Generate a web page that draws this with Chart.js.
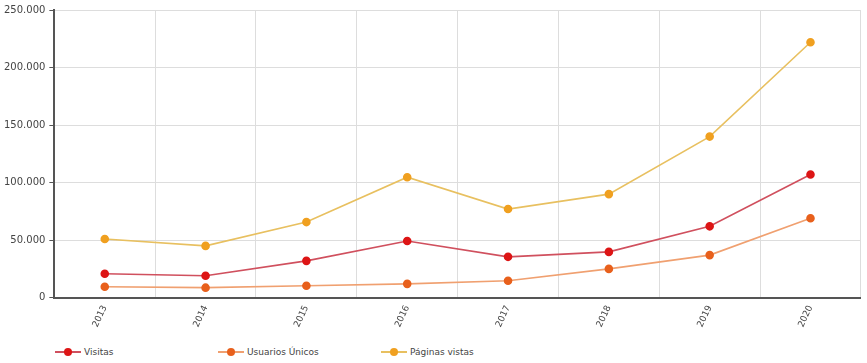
<!DOCTYPE html>
<html>
<head>
<meta charset="utf-8">
<script src="https://cdn.jsdelivr.net/npm/chart.js@4.4.1/dist/chart.umd.min.js"></script>
<style>
  html, body { margin: 0; padding: 0; background: #fff; }
  #wrap { position: relative; width: 867px; height: 335px; }
  #legend { position: absolute; left: 0; top: 347px; font: 9px "DejaVu Sans", sans-serif; color: #444; }
  .item { position: absolute; top: 0; white-space: nowrap; display: flex; align-items: center; }
  .sym { position: relative; width: 26px; height: 10px; margin-right: 3px; }
  .sym .ln { position: absolute; left: 0; right: 0; top: 4px; height: 2px; }
  .sym .dt { position: absolute; left: 9px; top: 1px; width: 8px; height: 8px; border-radius: 50%; }
</style>
</head>
<body>
<div id="wrap"><canvas id="chart"></canvas></div>
<div id="legend"></div>
<script>
const years = ["2013", "2014", "2015", "2016", "2017", "2018", "2019", "2020"];
const visitas = [20800, 19000, 32000, 49300, 35500, 39800, 62000, 107000];
const usuarios = [9500, 8700, 10400, 12000, 14700, 25000, 37000, 69000];
const paginas = [51000, 45000, 65700, 104700, 77000, 90000, 140000, 222000];
const seriesNames = ["Visitas", "Usuarios Únicos", "Páginas vistas"];

const lineColors = ["#d0505e", "#f0a070", "#e8c060"];
const pointColors = ["#dd1515", "#e8601c", "#f0a020"];

function fmt(v) {
  return String(v).replace(/\B(?=(\d{3})+(?!\d))/g, ".");
}

const datasets = [visitas, usuarios, paginas].map((d, i) => ({
  label: seriesNames[i],
  data: d,
  borderColor: lineColors[i],
  backgroundColor: pointColors[i],
  pointBackgroundColor: pointColors[i],
  pointBorderColor: pointColors[i],
  pointRadius: 3.5,
  pointHoverRadius: 4.5,
  borderWidth: 1.6,
  tension: 0,
  fill: false
}));

new Chart(document.getElementById("chart"), {
  type: "line",
  data: { labels: years, datasets: datasets },
  options: {
    responsive: true,
    maintainAspectRatio: false,
    animation: false,
    layout: { padding: { top: 6, right: 3, left: 0, bottom: 0 } },
    plugins: { legend: { display: false }, tooltip: { enabled: false } },
    scales: {
      x: {
        offset: true,
        grid: { offset: true, color: "#dddddd", lineWidth: 1, drawTicks: false },
        border: { color: "#555555", width: 2 },
        ticks: {
          minRotation: 65, maxRotation: 65, padding: 6,
          color: "#444", font: { family: "DejaVu Sans", size: 9 }
        }
      },
      y: {
        min: 0, max: 250000,
        grid: { color: "#dddddd", lineWidth: 1, tickLength: 5, tickColor: "#555555" },
        border: { color: "#555555", width: 2 },
        ticks: {
          stepSize: 50000, padding: 4,
          color: "#444", font: { family: "DejaVu Sans", size: 10 },
          callback: v => fmt(v)
        }
      }
    }
  }
});

// legend below the chart
const legend = document.getElementById("legend");
const lefts = [55, 218, 381];
seriesNames.forEach((name, i) => {
  const it = document.createElement("div");
  it.className = "item";
  it.style.left = lefts[i] + "px";
  it.innerHTML = '<span class="sym"><span class="ln" style="background:' + lineColors[i] +
    '"></span><span class="dt" style="background:' + pointColors[i] + '"></span></span>' + name;
  legend.appendChild(it);
});
</script>
</body>
</html>
